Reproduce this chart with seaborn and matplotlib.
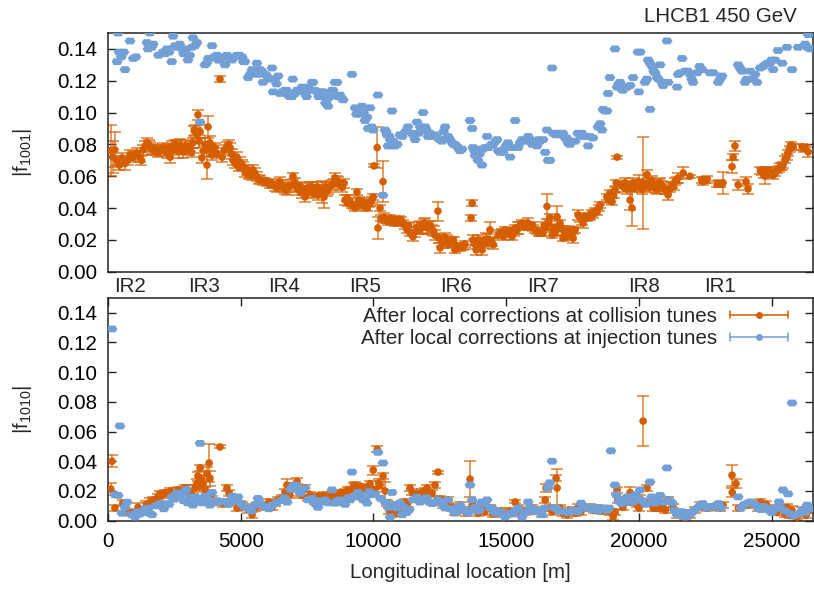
import matplotlib
matplotlib.use("Agg")
import matplotlib.pyplot as plt
import seaborn as sns
import pandas as pd
from matplotlib.legend_handler import HandlerBase
from matplotlib.lines import Line2D
from matplotlib.path import Path

# ---------------- data: |f1001| at collision tunes (orange) ----------------
s_col_1001 = [100, 180, 260, 340, 430, 530, 640, 740, 830, 940,
              1020, 1090, 1200, 1260, 1320, 1400, 1470, 1530, 1580, 1640,
              1700, 1800, 1880, 1960, 2070, 2150, 2220, 2280, 2340, 2400,
              2450, 2530, 2600, 2660, 2710, 2770, 2830, 2900, 2980, 3040,
              3090, 3150, 3200, 3250, 3280, 3330, 3390, 3430, 3470, 3540,
              3600, 3660, 3730, 3770, 3800, 3840, 3900, 3960, 4030, 4100,
              4220, 4300, 4380, 4480, 4540, 4600, 4660, 4710, 4790, 4860,
              4920, 4970, 5050, 5090, 5170, 5240, 5300, 5350, 5410, 5460,
              5530, 5610, 5670, 5730, 5840, 5920, 5990, 6100, 6160, 6220,
              6300, 6370, 6480, 6530, 6590, 6660, 6740, 6800, 6880, 6970,
              7050, 7120, 7160, 7240, 7310, 7360, 7420, 7480, 7540, 7610,
              7690, 7750, 7800, 7880, 7910, 7990, 8060, 8140, 8180, 8240,
              8290, 8360, 8440, 8500, 8550, 8610, 8670, 8740, 8820, 8890,
              8930, 9010, 9040, 9110, 9190, 9260, 9310, 9380, 9440, 9500,
              9560, 9610, 9680, 9760, 9820, 9870, 9940, 9990, 10020, 10140,
              10170, 10250, 10300, 10360, 10380, 10440, 10510, 10550, 10630, 10690,
              10740, 10810, 10890, 10960, 11040, 11120, 11200, 11270, 11330, 11380,
              11490, 11560, 11640, 11720, 11760, 11830, 11890, 11940, 12000, 12060,
              12130, 12210, 12270, 12320, 12430, 12480, 12510, 12570, 12620, 12700,
              12770, 12830, 12890, 12960, 13020, 13070, 13140, 13190, 13260, 13320,
              13380, 13440, 13680, 13720, 13750, 13800, 13870, 13940, 14000, 14090,
              14150, 14200, 14250, 14320, 14390, 14450, 14520, 14700, 14770, 14850,
              14900, 14960, 15020, 15070, 15150, 15220, 15280, 15340, 15400, 15450,
              15530, 15600, 15650, 15710, 15770, 15830, 15900, 15980, 16030, 16090,
              16160, 16220, 16280, 16390, 16440, 16500, 16540, 16600, 16650, 16730,
              16790, 16840, 16920, 16960, 17030, 17100, 17140, 17220, 17290, 17350,
              17410, 17460, 17520, 17600, 17710, 17780, 17860, 17900, 17970, 18050,
              18110, 18160, 18220, 18270, 18350, 18420, 18480, 18540, 18800, 18860,
              18910, 18990, 19050, 19100, 19150, 19180, 19340, 19400, 19480, 19560,
              19620, 19670, 19740, 19780, 19850, 19930, 19990, 20050, 20110, 20160,
              20230, 20310, 20370, 20420, 20480, 20540, 20610, 20690, 20750, 20800,
              20860, 20910, 20980, 21040, 21100, 21180, 21250, 21310, 21360, 21420,
              21480, 21670, 21930, 22370, 22420, 22500, 22570, 22950, 23010, 23060,
              23170, 23510, 23550, 23620, 23740, 24040, 24110, 24580, 24640, 24700,
              24750, 24790, 24830, 24880, 24940, 25060, 25140, 25200, 25270, 25320,
              25380, 25430, 25510, 25580, 25620, 25680, 25730, 25810, 26150, 26210,
              26260, 26380]
f_col_1001 = [.076, .072, .0766, .070, .067, .0715, .068, .070, .0735, .072,
              .073, .0745, .072, .070, .0766, .079, .081, .080, .0785, .077,
              .0766, .0765, .0753, .076, .0778, .0765, .0745, .0775, .072, .079,
              .0766, .080, .0785, .0755, .0797, .077, .0753, .079, .0785, .0765,
              .078, .075, .081, .0885, .089, .087, .0986, .082, .088, .0715,
              .076, .080, .067, .091, .078, .081, .0735, .0753, .078, .0745,
              .121, .072, .0765, .0785, .080, .0778, .074, .070, .068, .072,
              .066, .069, .067, .066, .0625, .064, .061, .062, .0605, .064,
              .062, .0597, .058, .058, .0566, .057, .0558, .0546, .056, .0546,
              .0535, .0533, .0566, .0545, .0533, .052, .0514, .053, .0545, .060,
              .0558, .053, .0514, .0535, .0494, .051, .047, .0525, .050, .0533,
              .0533, .049, .0514, .0533, .0483, .0514, .050, .047, .0533, .0505,
              .052, .0533, .0546, .0555, .059, .057, .0566, .0545, .0533, .0555,
              .045, .0463, .043, .0445, .042, .0415, .040, .050, .045, .042,
              .043, .044, .0408, .040, .0425, .043, .045, .047, .0665, .078,
              .0275, .040, .0337, .0566, .034, .0325, .0325, .0313, .0337, .032,
              .0325, .0305, .0313, .033, .0325, .0305, .029, .0263, .0285, .0243,
              .022, .025, .028, .0265, .029, .0275, .030, .0305, .028, .0275,
              .029, .0263, .0255, .023, .0381, .021, .015, .019, .018, .0215,
              .020, .017, .0187, .020, .0195, .0137, .016, .0155, .015, .016,
              .0156, .0175, .0337, .043, .020, .0175, .0137, .020, .016, .0137,
              .019, .018, .0205, .020, .0263, .019, .017, .023, .0245, .025,
              .022, .0263, .024, .025, .0255, .022, .0245, .0275, .026, .0275,
              .029, .0305, .029, .028, .029, .0305, .0285, .0294, .0275, .0263,
              .0255, .0245, .0243, .0243, .029, .028, .041, .031, .034, .023,
              .0275, .0243, .0345, .028, .0305, .027, .021, .025, .022, .0265,
              .025, .0235, .021, .0263, .0357, .034, .0325, .0305, .0345, .0337,
              .035, .0345, .037, .0357, .038, .0376, .040, .042, .047, .045,
              .0494, .044, .048, .0514, .0558, .072, .0545, .0533, .056, .052,
              .054, .045, .040, .0558, .053, .0546, .0566, .0533, .052, .0557,
              .0535, .061, .056, .0533, .057, .0546, .0525, .052, .0555, .0558,
              .054, .0533, .052, .051, .0483, .052, .0546, .0535, .0566, .0575,
              .059, .062, .060, .0575, .0566, .0575, .058, .055, .0555, .055,
              .0558, .066, .072, .079, .0546, .0566, .052, .0635, .063, .061,
              .060, .0625, .063, .062, .063, .0605, .062, .064, .0645, .066,
              .066, .067, .0705, .072, .0745, .077, .0797, .0785, .0785, .0775,
              .0778, .0753]
e_col_1001 = [.016, .010, .011, .003, .003, .003, .004, .003, .003, .003,
              .003, .003, .003, .003, .003, .003, .003, .003, .003, .003,
              .003, .003, .003, .003, .003, .003, .003, .003, .004, .003,
              .003, .003, .004, .004, .004, .003, .004, .003, .004, .003,
              .003, .003, .003, .003, .003, .003, .003, .004, .004, .003,
              .003, .004, .009, .007, .003, .004, .003, .003, .003, .003,
              .002, .003, .003, .003, .003, .003, .003, .003, .003, .003,
              .003, .003, .003, .003, .003, .003, .003, .003, .003, .003,
              .003, .003, .003, .002, .002, .002, .002, .002, .002, .002,
              .003, .003, .003, .003, .003, .003, .003, .003, .003, .002,
              .003, .003, .003, .003, .003, .003, .003, .003, .003, .003,
              .003, .003, .003, .003, .003, .003, .007, .007, .003, .003,
              .003, .003, .003, .003, .003, .003, .003, .003, .003, .003,
              .003, .002, .002, .002, .002, .002, .002, .002, .002, .002,
              .002, .002, .002, .002, .002, .002, .002, .002, .001, .013,
              .007, .002, .002, .013, .003, .002, .002, .002, .002, .002,
              .002, .002, .002, .002, .002, .002, .002, .002, .002, .002,
              .003, .003, .003, .003, .003, .004, .003, .003, .004, .003,
              .003, .003, .003, .003, .006, .003, .003, .003, .003, .003,
              .003, .002, .002, .002, .002, .002, .002, .002, .002, .002,
              .002, .002, .002, .002, .003, .003, .003, .003, .003, .003,
              .003, .003, .004, .004, .005, .003, .003, .002, .002, .002,
              .002, .002, .002, .002, .002, .002, .002, .002, .002, .004,
              .002, .002, .002, .002, .002, .003, .002, .002, .002, .002,
              .002, .002, .002, .002, .002, .002, .008, .002, .002, .002,
              .002, .002, .007, .002, .002, .002, .002, .002, .002, .002,
              .002, .002, .003, .002, .003, .003, .003, .003, .002, .002,
              .002, .002, .002, .002, .002, .002, .002, .002, .002, .002,
              .002, .002, .002, .002, .002, .001, .002, .003, .003, .003,
              .003, .006, .0115, .003, .003, .003, .004, .003, .003, .029,
              .003, .003, .003, .003, .003, .003, .003, .003, .003, .003,
              .003, .003, .003, .002, .003, .002, .002, .002, .002, .002,
              .003, .004, .001, .002, .002, .002, .002, .002, .002, .002,
              .007, .004, .002, .003, .003, .003, .003, .002, .002, .002,
              .005, .003, .003, .002, .002, .002, .002, .002, .002, .002,
              .002, .002, .002, .002, .002, .002, .002, .002, .002, .002,
              .002, .003]

# ---------------- data: |f1001| at injection tunes (blue) ----------------
s_inj_1001 = [340, 380, 420, 500, 600, 640, 830, 950, 1050, 1470,
              1510, 1580, 1640, 1700, 1900, 2070, 2150, 2220, 2300, 2400,
              2450, 2530, 2600, 2700, 2790, 2850, 2900, 2960, 3010, 3080,
              3160, 3200, 3280, 3350, 3470, 3650, 3720, 3780, 3840, 3920,
              4000, 4100, 4160, 4220, 4300, 4410, 4480, 4560, 4670, 4760,
              4860, 4950, 5050, 5100, 5160, 5280, 5350, 5430, 5500, 5610,
              5650, 5720, 5800, 5840, 5920, 5990, 6060, 6180, 6220, 6290,
              6350, 6410, 6480, 6560, 6670, 6730, 6780, 6850, 6930, 6960,
              7050, 7120, 7200, 7310, 7420, 7480, 7540, 7610, 7690, 7720,
              7800, 7880, 7940, 7990, 8050, 8100, 8190, 8250, 8290, 8360,
              8440, 8480, 8550, 8630, 8670, 8740, 8800, 8860, 9190, 9310,
              9360, 9420, 9500, 9570, 9630, 9680, 9760, 9800, 9870, 9930,
              9990, 10170, 10360, 10440, 10480, 10510, 10550, 10600, 10630, 10700,
              10750, 10810, 10900, 11000, 11080, 11200, 11300, 11450, 11500, 11570,
              11640, 11700, 11760, 11870, 11950, 12000, 12060, 12130, 12210, 12300,
              12430, 12500, 12580, 12640, 12700, 12810, 12880, 12960, 13020, 13070,
              13130, 13190, 13260, 13340, 13640, 13720, 13750, 13800, 13830, 13900,
              13940, 14000, 14040, 14090, 14130, 14200, 14280, 14320, 14390, 14450,
              14510, 14600, 14660, 14700, 14770, 14880, 14960, 15030, 15070, 15150,
              15230, 15340, 15450, 15520, 15600, 15700, 15830, 15900, 15980, 16050,
              16160, 16220, 16280, 16390, 16470, 16540, 16580, 16650, 16730, 16770,
              16860, 16960, 17060, 17140, 17220, 17280, 17330, 17400, 17480, 17600,
              17700, 17780, 17850, 17900, 18000, 18090, 18160, 18270, 18460, 18540,
              18610, 18650, 18720, 18800, 18840, 18910, 19100, 19180, 19240, 19290,
              19340, 19400, 19470, 19560, 19670, 19780, 19970, 20000, 20050, 20230,
              20300, 20350, 20420, 20420, 20500, 20560, 20610, 20690, 20740, 20800,
              20870, 20910, 21060, 21100, 21440, 21480, 21560, 21630, 21740, 21840,
              21930, 21990, 22040, 22190, 22290, 22380, 22680, 22800, 22990, 23060,
              23130, 23740, 23810, 23890, 24000, 24060, 24190, 24300, 24380, 24450,
              24570, 24680, 24750, 24840, 24940, 25000, 25060, 25130, 25240, 25400,
              25580, 25770, 26000, 26260, 26340, 26380, 26450]
f_inj_1001 = [.132, .150, .138, .135, .138, .127, .145, .134, .135, .144,
              .140, .150, .141, .143, .136, .138, .137, .140, .138, .132,
              .148, .142, .141, .143, .140, .137, .138, .140, .133, .136,
              .141, .147, .142, .144, .094, .130, .131, .134, .134, .142,
              .135, .136, .133, .133, .135, .130, .136, .134, .133, .135,
              .136, .136, .135, .132, .132, .122, .124, .127, .125, .131,
              .124, .127, .126, .119, .124, .123, .121, .128, .113, .121,
              .118, .123, .112, .113, .114, .114, .111, .110, .110, .121,
              .112, .114, .114, .116, .112, .110, .116, .114, .119, .119,
              .114, .113, .110, .111, .113, .113, .106, .108, .104, .110,
              .114, .114, .119, .119, .110, .111, .109, .108, .124, .103,
              .099, .099, .102, .104, .100, .095, .097, .090, .103, .091,
              .089, .111, .048, .089, .088, .086, .079, .085, .083, .101,
              .082, .079, .080, .086, .085, .088, .091, .087, .086, .083,
              .094, .087, .091, .100, .091, .089, .085, .087, .085, .086,
              .084, .083, .082, .088, .091, .085, .083, .081, .080, .080,
              .079, .078, .076, .077, .095, .090, .078, .076, .073, .075,
              .070, .074, .077, .067, .077, .078, .085, .078, .079, .080,
              .080, .082, .083, .076, .075, .075, .078, .080, .081, .072,
              .078, .095, .078, .081, .083, .082, .085, .083, .080, .081,
              .079, .083, .082, .083, .075, .089, .070, .070, .128, .087,
              .086, .087, .086, .087, .084, .084, .081, .080, .082, .082,
              .087, .086, .087, .085, .085, .079, .085, .084, .091, .093,
              .089, .102, .101, .101, .112, .122, .140, .116, .118, .119,
              .115, .114, .116, .116, .117, .122, .138, .113, .138, .119,
              .121, .133, .131, .102, .129, .126, .125, .122, .121, .130,
              .119, .117, .145, .119, .116, .124, .125, .134, .126, .126,
              .124, .121, .119, .125, .129, .127, .125, .125, .119, .121,
              .123, .130, .128, .126, .119, .121, .126, .121, .124, .119,
              .128, .129, .130, .131, .131, .133, .127, .133, .139, .131,
              .141, .127, .141, .143, .141, .149, .140]

# ---------------- data: |f1010| at collision tunes (orange) ----------------
s_col_1010 = [110, 150, 260, 560, 750, 900, 1130, 1280, 1450, 1600,
              1700, 1770, 1880, 1960, 2030, 2150, 2260, 2350, 2450, 2520,
              2640, 2790, 2900, 2980, 3090, 3200, 3280, 3350, 3390, 3430,
              3470, 3520, 3580, 3650, 3730, 3810, 3840, 3900, 4030, 4220,
              4330, 4480, 4560, 4700, 4860, 4970, 5050, 5160, 5270, 5430,
              5550, 5650, 5800, 5920, 6050, 6180, 6290, 6410, 6560, 6670,
              6740, 6850, 6960, 7120, 7200, 7300, 7420, 7520, 7620, 7700,
              7800, 7910, 8020, 8130, 8250, 8350, 8440, 8540, 8640, 8740,
              8850, 8930, 9050, 9120, 9250, 9310, 9420, 9530, 9610, 9700,
              9800, 9870, 9940, 9990, 10060, 10140, 10200, 10250, 10360, 10440,
              10510, 10600, 10700, 10810, 10930, 11080, 11190, 11290, 11380, 11460,
              11560, 11680, 11760, 11830, 11950, 12020, 12100, 12210, 12320, 12430,
              12520, 12620, 12700, 12810, 12890, 12960, 13070, 13160, 13260, 13380,
              13500, 13640, 13720, 13830, 13940, 14090, 14200, 14390, 14500, 14580,
              14700, 14800, 14960, 15060, 15150, 15340, 15450, 15550, 15700, 15830,
              15980, 16160, 16350, 16470, 16500, 16650, 16730, 16880, 16920, 17030,
              17140, 17290, 17410, 17600, 17710, 17820, 17970, 18160, 18300, 18420,
              18610, 18800, 18900, 19030, 19100, 19180, 19200, 19400, 19500, 19670,
              19750, 19830, 19930, 20000, 20060, 20160, 20230, 20310, 20380, 20540,
              20700, 20800, 20900, 21000, 21100, 21290, 21440, 21630, 21740, 21930,
              22120, 22310, 22420, 22570, 22800, 23060, 23170, 23510, 23520, 23660,
              23750, 24080, 24300, 24490, 24580, 24680, 24800, 24870, 25060, 25200,
              25350, 25500, 25580, 25680, 25770, 25960, 26150, 26300, 26450]
f_col_1010 = [.0213, .040, .0085, .012, .006, .005, .009, .007, .011, .013,
              .014, .0126, .016, .018, .017, .0185, .0186, .020, .0175, .016,
              .0207, .0195, .022, .0207, .019, .0165, .022, .025, .030, .023,
              .0355, .028, .025, .021, .0314, .0388, .0286, .0145, .0126, .0496,
              .0115, .022, .0185, .014, .0085, .011, .0105, .009, .0075, .004,
              .0085, .0105, .0105, .009, .0125, .009, .0118, .014, .015, .019,
              .024, .0175, .0235, .0266, .0185, .017, .022, .0155, .017, .0155,
              .013, .0165, .0145, .017, .016, .0145, .0175, .014, .0165, .0185,
              .018, .019, .0205, .021, .0235, .024, .0225, .023, .021, .022,
              .0215, .025, .019, .034, .021, .048, .025, .024, .030, .020,
              .012, .0065, .0045, .005, .0085, .0075, .0126, .0115, .022, .019,
              .0175, .018, .0165, .019, .020, .022, .018, .0186, .024, .0327,
              .0145, .0105, .012, .014, .009, .0085, .006, .008, .0105, .007,
              .005, .028, .0105, .009, .005, .0085, .006, .0085, .0045, .006,
              .005, .0065, .0045, .005, .0065, .0126, .0085, .005, .006, .007,
              .0085, .007, .0045, .014, .022, .0085, .006, .0285, .022, .0085,
              .005, .004, .007, .005, .009, .006, .0085, .009, .007, .0085,
              .0065, .007, .006, .0025, .006, .0207, .014, .009, .0125, .019,
              .0125, .0165, .011, .0085, .0145, .067, .0125, .022, .012, .0085,
              .0085, .0085, .0105, .007, .014, .009, .004, .005, .0025, .004,
              .007, .0105, .0095, .0085, .009, .0085, .0105, .0306, .019, .025,
              .0085, .0105, .0115, .0085, .0125, .0105, .011, .0085, .007, .0055,
              .0085, .0045, .009, .0035, .007, .0025, .007, .0035, .007]
e_col_1010 = [.004, .004, .002, .002, .002, .002, .003, .002, .002, .002,
              .002, .002, .002, .002, .002, .002, .002, .002, .002, .002,
              .002, .002, .002, .003, .002, .002, .002, .003, .003, .002,
              .002, .003, .003, .002, .005, .013, .005, .002, .002, .001,
              .002, .002, .002, .002, .002, .002, .002, .002, .002, .002,
              .002, .002, .002, .002, .002, .002, .002, .002, .002, .002,
              .004, .002, .002, .002, .002, .002, .002, .002, .002, .002,
              .002, .002, .002, .002, .002, .002, .002, .002, .002, .002,
              .002, .002, .002, .002, .002, .002, .002, .002, .002, .002,
              .002, .002, .002, .003, .002, .002, .003, .003, .002, .006,
              .002, .002, .002, .002, .002, .002, .002, .002, .002, .002,
              .002, .002, .002, .002, .002, .002, .002, .002, .002, .001,
              .002, .002, .002, .002, .002, .002, .002, .002, .002, .002,
              .002, .012, .002, .002, .002, .002, .002, .002, .002, .002,
              .002, .002, .002, .002, .002, .001, .002, .002, .002, .002,
              .002, .002, .002, .002, .003, .002, .002, .002, .013, .002,
              .002, .002, .002, .002, .002, .002, .002, .002, .002, .002,
              .002, .002, .002, .002, .002, .002, .002, .002, .002, .004,
              .002, .002, .002, .002, .003, .017, .002, .002, .002, .002,
              .002, .002, .002, .002, .002, .002, .002, .002, .002, .002,
              .002, .002, .002, .002, .002, .002, .002, .007, .003, .003,
              .002, .002, .002, .002, .002, .002, .002, .002, .002, .002,
              .002, .002, .002, .002, .003, .002, .002, .002, .002]

# ---------------- data: |f1010| at injection tunes (blue) ----------------
s_inj_1010 = [150, 260, 380, 450, 530, 640, 720, 900, 1020, 1100,
              1200, 1300, 1400, 1510, 1570, 1660, 1800, 1950, 2100, 2200,
              2300, 2410, 2500, 2600, 2700, 2790, 2850, 2950, 3000, 3090,
              3150, 3200, 3300, 3400, 3470, 3550, 3650, 3760, 3840, 3920,
              4000, 4100, 4220, 4400, 4550, 4680, 4750, 4900, 5000, 5120,
              5280, 5400, 5520, 5650, 5700, 5800, 5920, 6060, 6180, 6350,
              6500, 6650, 6750, 6880, 6960, 7050, 7120, 7250, 7420, 7540,
              7690, 7800, 7910, 8000, 8100, 8180, 8300, 8440, 8550, 8640,
              8740, 8840, 8930, 9050, 9120, 9190, 9300, 9420, 9520, 9610,
              9700, 9760, 9840, 9950, 10050, 10170, 10270, 10360, 10440, 10560,
              10630, 10700, 10800, 10880, 11000, 11080, 11150, 11250, 11350, 11490,
              11640, 11750, 11880, 12000, 12100, 12210, 12330, 12430, 12520, 12620,
              12700, 12810, 12900, 13000, 13070, 13180, 13260, 13380, 13470, 13560,
              13640, 13720, 13830, 13900, 14000, 14090, 14180, 14280, 14390, 14480,
              14580, 14680, 14770, 14860, 14960, 15060, 15150, 15240, 15340, 15450,
              15600, 15700, 15830, 15900, 15980, 16060, 16160, 16250, 16350, 16450,
              16580, 16650, 16730, 16800, 16900, 17000, 17100, 17200, 17300, 17400,
              17500, 17600, 17700, 17820, 17920, 18050, 18160, 18260, 18350, 18470,
              18600, 18700, 18800, 18880, 18950, 19100, 19150, 19250, 19350, 19480,
              19560, 19650, 19780, 19870, 19930, 20050, 20130, 20250, 20420, 20480,
              20550, 20610, 20700, 20800, 20900, 21060, 21150, 21250, 21350, 21440,
              21530, 21630, 21740, 21830, 21930, 22020, 22120, 22210, 22310, 22400,
              22500, 22570, 22700, 22800, 22920, 23000, 23100, 23740, 23850, 23950,
              24080, 24190, 24300, 24400, 24490, 24600, 24700, 24800, 24900, 25000,
              25060, 25180, 25280, 25350, 25430, 25520, 25620, 25700, 25770, 25850,
              26000, 26150, 26260, 26340, 26420]
f_inj_1010 = [.129, .0175, .017, .0637, .005, .009, .0125, .004, .0025, .006,
              .0045, .0055, .008, .0085, .005, .004, .010, .0115, .008, .0115,
              .011, .016, .0145, .0185, .017, .0186, .0135, .021, .012, .016,
              .0145, .0105, .016, .0135, .052, .012, .0165, .0145, .0105, .019,
              .012, .0135, .0125, .013, .011, .0165, .0135, .016, .0115, .0095,
              .008, .0065, .0105, .015, .0125, .0105, .009, .008, .0105, .012,
              .0135, .0155, .0125, .021, .023, .024, .0215, .0185, .022, .014,
              .015, .0115, .009, .0135, .0125, .014, .012, .0207, .0118, .0135,
              .014, .012, .011, .0155, .014, .0327, .016, .019, .0165, .014,
              .0155, .0118, .0195, .0175, .018, .046, .015, .0388, .0125, .009,
              .0025, .019, .011, .0085, .012, .004, .009, .0055, .0075, .014,
              .016, .0125, .014, .0155, .0125, .0115, .012, .014, .0125, .0105,
              .0085, .014, .008, .0075, .005, .0085, .0105, .007, .0075, .005,
              .024, .014, .009, .0065, .007, .0126, .0115, .014, .0085, .0085,
              .005, .006, .006, .0045, .0025, .004, .005, .0045, .007, .0085,
              .0025, .0055, .0126, .0085, .0085, .006, .007, .006, .004, .0085,
              .022, .0255, .040, .009, .008, .0065, .0065, .006, .0055, .006,
              .007, .007, .006, .0118, .0085, .0085, .009, .0075, .009, .0065,
              .0085, .0085, .007, .0085, .047, .024, .0175, .013, .0115, .0145,
              .016, .0125, .0126, .0175, .016, .0207, .0135, .011, .026, .016,
              .0135, .0118, .014, .017, .0125, .0355, .014, .012, .007, .004,
              .006, .006, .0025, .0055, .004, .006, .0075, .0085, .0105, .0115,
              .0095, .0085, .0095, .009, .0105, .0115, .0085, .016, .0085, .0105,
              .0118, .0126, .0118, .0105, .0085, .0075, .0095, .0085, .007, .0055,
              .007, .009, .0126, .0085, .0207, .0065, .018, .0045, .0792, .0035,
              .0045, .007, .0055, .0105, .008]

# ---------------- labels ----------------
ir_labels = ["IR2", "IR3", "IR4", "IR5", "IR6", "IR7", "IR8", "IR1"]
ir_positions = [830, 3617, 6632, 9683, 13112, 16390, 20196, 23059]
yticks = [0.00, 0.02, 0.04, 0.06, 0.08, 0.10, 0.12, 0.14]
xticks = [0, 5000, 10000, 15000, 20000, 25000]
label_col = "After local corrections at collision tunes"
label_inj = "After local corrections at injection tunes"

# ---------------- style ----------------
sns.set_theme(style="ticks")
plt.rcParams["font.family"] = ["Liberation Sans", "DejaVu Sans"]
plt.rcParams["mathtext.default"] = "regular"
FS = 14.8
ORANGE = "#D55E00"
BLUE = "#729FD6"
# flat-topped, pointed-sided marker (circle with tiny capped error bar look)
BLUE_MARKER = Path([(-1.0, 0.0), (-0.6, 0.62), (0.6, 0.62), (1.0, 0.0),
                    (0.6, -0.62), (-0.6, -0.62), (-1.0, 0.0)],
                   [Path.MOVETO] + [Path.LINETO] * 5 + [Path.CLOSEPOLY])

W, H = 814, 592
fig = plt.figure(figsize=(W / 100, H / 100), dpi=100)
ax1 = fig.add_axes([108 / W, 1 - 271.7 / H, 705 / W, 238.7 / H])
ax2 = fig.add_axes([108 / W, 1 - 520.7 / H, 705 / W, 223.0 / H])


def draw(ax, s_c, f_c, e_c, s_i, f_i):
    dfc = pd.DataFrame({"s": s_c, "f": f_c, "e": e_c})
    dfi = pd.DataFrame({"s": s_i, "f": f_i})
    ax.errorbar(dfc["s"], dfc["f"], yerr=dfc["e"], fmt="none", ecolor=ORANGE,
                elinewidth=1.1, capsize=4, capthick=1.1, alpha=0.8, zorder=2)
    sns.scatterplot(data=dfc, x="s", y="f", ax=ax, color=ORANGE, s=30,
                    edgecolor="none", zorder=3, legend=False)
    sns.scatterplot(data=dfi, x="s", y="f", ax=ax, color=BLUE, s=62,
                    marker=BLUE_MARKER, edgecolor="none", zorder=5,
                    legend=False)


draw(ax1, s_col_1001, f_col_1001, e_col_1001, s_inj_1001, f_inj_1001)
draw(ax2, s_col_1010, f_col_1010, e_col_1010, s_inj_1010, f_inj_1010)

for ax in (ax1, ax2):
    ax.set_xlim(0, 26560)
    ax.set_ylim(0, 0.15)
    ax.set_yticks(yticks)
    ax.set_yticklabels([f"{v:.2f}" for v in yticks])
    ax.tick_params(axis="y", which="both", direction="in", length=6, width=1,
                   left=True, right=True, labelsize=FS, pad=8, colors="#222222",
                   labelcolor="black")
    for sp in ax.spines.values():
        sp.set_visible(True)
        sp.set_linewidth(1.1)
        sp.set_color("#222222")
    ax.set_xlabel("")
    ax.set_ylabel("")

ax1.set_xticks(ir_positions)
ax1.set_xticklabels(ir_labels)
ax1.tick_params(axis="x", length=0, labelsize=FS, pad=4, top=False)

ax2.set_xticks(xticks)
ax2.set_xticklabels([str(v) for v in xticks])
ax2.tick_params(axis="x", direction="in", length=6, width=1, top=True,
                bottom=True, labelsize=FS, pad=8, colors="#222222",
                labelcolor="black")

ax1.set_ylabel(r"|f$_{1001}$|", fontsize=FS)
ax2.set_ylabel(r"|f$_{1010}$|", fontsize=FS)
ax1.yaxis.set_label_coords(-0.105, 0.5)
ax2.yaxis.set_label_coords(-0.105, 0.5)
ax2.set_xlabel("Longitudinal location [m]", fontsize=FS)
ax2.xaxis.set_label_coords(0.5, -0.19)

fig.text(797 / W, 1 - 17 / H, "LHCB1 450 GeV", ha="right", va="center",
         fontsize=FS)


class ErrHandler(HandlerBase):
    def __init__(self, color):
        super().__init__()
        self.color = color

    def create_artists(self, legend, orig_handle, xdescent, ydescent, width,
                       height, fontsize, trans):
        y = height / 2 - ydescent
        x0, x1 = -xdescent, width - xdescent
        c = 2.6
        arts = [
            Line2D([x0, x1], [y, y], color=self.color, lw=1.1),
            Line2D([x0, x0], [y - c, y + c], color=self.color, lw=1.1),
            Line2D([x1, x1], [y - c, y + c], color=self.color, lw=1.1),
            Line2D([(x0 + x1) / 2], [y], color=self.color, marker="o",
                   markersize=5, markeredgewidth=0, linestyle="none"),
        ]
        for a in arts:
            a.set_transform(trans)
        return arts


h_col = Line2D([], [], color=ORANGE)
h_inj = Line2D([], [], color=BLUE)
ax2.legend([h_col, h_inj], [label_col, label_inj],
           handler_map={h_col: ErrHandler(ORANGE), h_inj: ErrHandler(BLUE)},
           loc="upper right", bbox_to_anchor=(0.9645, 0.958),
           bbox_transform=ax2.transAxes, frameon=False, markerfirst=False,
           fontsize=FS, handlelength=2.8, handletextpad=0.65,
           labelspacing=0.15, borderpad=0, borderaxespad=0)

fig.savefig("out.png", dpi=100)
